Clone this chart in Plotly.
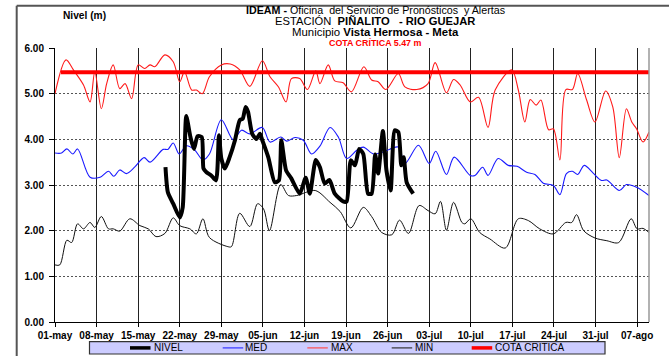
import plotly.graph_objects as go

# ---- data (x = days since 01-may) ----
tick_days = [0, 7, 14, 21, 28, 35, 42, 49, 56, 63, 70, 77, 84, 91, 98]
tick_labels = ["01-may", "08-may", "15-may", "22-may", "29-may", "05-jun", "12-jun",
               "19-jun", "26-jun", "03-jul", "10-jul", "17-jul", "24-jul", "31-jul", "07-ago"]

max_days = [0, 1.85, 3.1, 4.8, 5.9, 6.7, 7.8, 8.7, 9.8, 10.9, 11.8, 12.9, 14.0, 15.1, 16.0,
            16.8, 18.5, 19.9, 21.0, 21.8, 23.0, 23.8, 24.8, 26.0, 28.0, 29.5, 31.1, 32.8,
            34.9, 36.2, 37.6, 38.9, 39.8, 41.2, 42.5, 43.9, 44.6, 46.0, 47.1, 48.5, 49.9,
            52.0, 53.3, 54.4, 55.7, 57.8, 58.9, 60.9, 62.8, 64.0, 65.9, 67.1, 68.2, 69.9,
            71.3, 72.9, 74.1, 76.9, 78.0, 79.1, 80.0, 81.0, 81.8, 83.1, 83.9, 85.0, 86.0,
            87.1, 88.0, 89.5, 90.9, 92.7, 93.9, 95.0, 96.2, 97.1, 97.9, 99.0, 100.0]
max_vals = [5.00, 5.74, 5.52, 5.19, 4.82, 5.48, 4.67, 5.22, 5.63, 5.11, 5.22, 4.89, 5.63, 5.55, 5.63,
            5.59, 5.85, 5.70, 5.26, 5.48, 5.08, 5.08, 5.00, 5.37, 5.63, 5.65, 5.52, 5.16,
            5.72, 5.37, 5.15, 4.82, 5.33, 5.33, 5.09, 5.50, 5.22, 5.63, 5.28, 5.24, 5.04,
            5.59, 5.30, 5.26, 5.09, 5.44, 5.15, 5.09, 5.22, 5.68, 5.02, 5.31, 5.19, 4.82,
            4.92, 4.26, 5.08, 5.52, 5.08, 4.38, 4.87, 4.75, 4.86, 4.21, 4.23, 3.55, 5.09,
            5.09, 5.44, 4.86, 4.38, 5.06, 4.71, 3.60, 4.67, 4.38, 4.23, 3.94, 4.16]

med_days = [0, 1.1, 2.0, 3.0, 3.8, 5.9, 7.6, 9.0, 9.9, 10.9, 12.0, 13.4, 15.0, 16.0, 18.2,
            19.0, 19.9, 20.9, 22.1, 23.5, 24.9, 26.0, 28.0, 30.0, 31.4, 32.8, 34.9, 36.2,
            38.0, 39.0, 40.4, 41.8, 43.2, 44.6, 46.3, 47.7, 49.1, 50.8, 51.9, 53.6, 55.2,
            57.8, 58.9, 61.2, 63.0, 64.1, 65.9, 67.2, 69.9, 70.7, 72.0, 72.9, 74.6, 76.3,
            77.8, 79.4, 80.8, 82.2, 83.9, 85.0, 86.1, 87.1, 88.0, 89.1, 90.6, 92.0, 92.9,
            95.0, 96.2, 97.9, 100.0]
med_vals = [3.70, 3.70, 3.79, 3.68, 3.79, 3.17, 3.17, 3.30, 3.19, 3.33, 3.25, 3.39, 3.60, 3.50, 3.78,
            3.78, 3.92, 3.68, 3.86, 3.77, 3.55, 3.68, 4.43, 3.99, 4.20, 4.12, 4.26, 3.94,
            4.05, 3.96, 4.04, 3.98, 3.68, 3.85, 4.26, 4.05, 3.58, 3.76, 3.83, 3.68, 3.72,
            3.83, 3.47, 3.87, 3.47, 3.74, 3.23, 3.61, 3.21, 3.21, 3.39, 3.21, 3.58, 3.43,
            3.41, 3.28, 3.23, 3.04, 2.99, 2.79, 3.25, 3.30, 3.23, 3.43, 3.26, 3.10, 3.11,
            2.88, 3.01, 2.95, 2.77]

min_days = [0, 0.8, 2.0, 2.8, 3.8, 4.8, 5.9, 6.7, 7.8, 9.0, 9.8, 10.9, 12.6, 14.3, 15.7,
            17.0, 18.5, 19.9, 21.0, 22.7, 23.8, 24.9, 26.0, 29.1, 29.7, 31.1, 32.8, 34.1,
            35.1, 36.1, 38.0, 39.3, 40.7, 43.8, 46.3, 48.0, 49.8, 51.9, 53.3, 55.0, 56.7,
            58.0, 59.5, 61.3, 62.8, 64.0, 64.9, 65.9, 67.1, 68.5, 69.0, 70.0, 71.5, 73.2,
            75.8, 78.0, 79.7, 81.6, 83.9, 86.0, 87.0, 87.8, 89.0, 90.9, 92.9, 94.9, 97.0,
            98.0, 99.0, 100.0]
min_vals = [1.25, 1.25, 1.79, 1.74, 2.15, 2.04, 2.18, 2.07, 2.31, 2.04, 2.04, 1.99, 2.26, 2.11, 2.04,
            1.87, 1.94, 2.28, 2.11, 2.04, 1.93, 2.26, 1.85, 1.65, 1.65, 2.38, 2.09, 2.59,
            2.48, 2.00, 3.01, 2.77, 2.77, 2.88, 2.62, 2.42, 2.06, 2.51, 2.31, 1.96, 1.91,
            2.23, 1.94, 2.55, 2.44, 2.37, 2.64, 2.01, 2.62, 2.18, 2.15, 2.26, 1.96, 1.82,
            1.62, 2.26, 2.22, 2.04, 1.93, 2.18, 2.18, 2.35, 2.00, 1.84, 1.78, 1.74, 2.26,
            2.04, 2.05, 1.96]

nivel_days = [18.6, 19.0, 19.9, 21.0, 21.5, 22.1, 22.8, 23.4, 24.0, 24.7, 25.0, 25.5, 26.3,
              27.1, 27.6, 28.0, 28.6, 29.4, 30.3, 31.1, 31.6, 32.1, 32.5, 33.2, 33.9, 34.5,
              34.9, 35.9, 37.0, 37.7, 38.1, 38.9, 39.8, 41.2, 42.2, 42.9, 43.9, 44.6, 45.4,
              46.2, 47.1, 48.5, 49.1, 49.8, 50.5, 51.2, 51.9, 52.7, 53.3, 53.9, 54.4, 55.2,
              55.8, 56.5, 57.2, 57.8, 58.3, 58.7, 59.2, 60.3]
nivel_vals = [3.39, 2.84, 2.59, 2.29, 2.51, 4.51, 4.05, 3.79, 4.07, 4.05, 3.36, 3.28, 3.21,
              3.10, 4.09, 3.58, 3.36, 3.61, 3.98, 4.42, 4.45, 4.71, 4.60, 4.12, 4.01, 4.12,
              3.98, 3.61, 3.06, 3.10, 3.98, 3.32, 3.14, 2.81, 3.16, 2.81, 3.55, 3.39, 3.03,
              3.11, 2.81, 2.64, 2.64, 3.54, 3.43, 3.79, 3.68, 2.81, 2.81, 3.67, 3.25, 4.18,
              3.32, 2.88, 4.20, 4.16, 3.43, 3.61, 3.06, 2.81]

cota_days = [1, 100]
cota_level = 5.47

# ---- layout geometry ----
W, H = 669, 356
ML, MR, MT, MB = 55, 20, 48, 34
PW, PH = W - ML - MR, H - MT - MB


def px(xp):
    return (xp - ML) / PW


def py(yp):
    return (MT + PH - yp) / PH


FONT = "Liberation Sans, Arial, sans-serif"

fig = go.Figure()
fig.add_trace(go.Scatter(x=max_days, y=max_vals, mode="lines", name="MAX",
                         line=dict(color="#ff1a1a", width=1.1, shape="spline", smoothing=0.9)))
fig.add_trace(go.Scatter(x=med_days, y=med_vals, mode="lines", name="MED",
                         line=dict(color="#1a1aff", width=1.1, shape="spline", smoothing=0.9)))
fig.add_trace(go.Scatter(x=min_days, y=min_vals, mode="lines", name="MIN",
                         line=dict(color="#111111", width=1.0, shape="spline", smoothing=0.9)))
fig.add_trace(go.Scatter(x=cota_days, y=[cota_level] * len(cota_days), mode="lines",
                         name="COTA CRITICA", line=dict(color="#ff0000", width=4)))
fig.add_trace(go.Scatter(x=nivel_days, y=nivel_vals, mode="lines", name="NIVEL",
                         line=dict(color="#000000", width=4, shape="spline", smoothing=0.6)))

fig.update_layout(
    width=W, height=H, showlegend=False,
    margin=dict(l=ML, r=MR, t=MT, b=MB, autoexpand=False),
    paper_bgcolor="white", plot_bgcolor="white",
    font=dict(family=FONT, color="black"),
    xaxis=dict(range=[0, 100], tickvals=tick_days, ticktext=tick_labels,
               showgrid=True, gridcolor="#222222", gridwidth=1,
               showline=True, linecolor="black", linewidth=1,
               ticks="outside", ticklen=4, tickcolor="black",
               tickfont=dict(family=FONT, size=10, weight="bold"), zeroline=False),
    yaxis=dict(range=[0, 6], tickvals=[0, 1, 2, 3, 4, 5, 6], tickformat=".2f",
               showgrid=True, gridcolor="#555555", gridwidth=1, griddash="2px,2px",
               showline=True, linecolor="black", linewidth=1,
               ticks="outside", ticklen=5, tickcolor="black", ticklabelstandoff=3,
               tickfont=dict(family=FONT, size=10, weight="bold"), zeroline=False),
)

shapes = []
# right border of plot area
shapes.append(dict(type="line", xref="paper", yref="paper", x0=1, x1=1, y0=0, y1=1,
                   line=dict(color="#999999", width=1.5)))
# outer page frame
shapes.append(dict(type="line", xref="paper", yref="paper", x0=px(16.7), x1=px(672),
                   y0=py(5.7), y1=py(5.7), line=dict(color="#555555", width=2)))
shapes.append(dict(type="line", xref="paper", yref="paper", x0=px(16.7), x1=px(16.7),
                   y0=py(5.7), y1=py(360), line=dict(color="#555555", width=2)))

# legend box
shapes.append(dict(type="rect", xref="paper", yref="paper", x0=px(89.5), x1=px(605),
                   y0=py(354), y1=py(341.7), fillcolor="#ccccff",
                   line=dict(color="#333333", width=1.2)))
legend_items = [
    ("NIVEL", "#000000", 3.5, 130, 151.5),
    ("MED", "#3333ff", 1.2, 222.7, 243.3),
    ("MAX", "#ff4d4d", 1.2, 307.3, 328.5),
    ("MIN", "#333333", 1.2, 391.7, 412.7),
    ("COTA CRITICA", "#ff0000", 3.5, 471.7, 493.3),
]
annotations = []
ly = 347.9
for name, color, width, x0, tx in legend_items:
    shapes.append(dict(type="line", xref="paper", yref="paper", x0=px(x0), x1=px(x0 + 20.5),
                       y0=py(ly), y1=py(ly), line=dict(color=color, width=width)))
    annotations.append(dict(xref="paper", yref="paper", x=px(tx), y=py(ly), text=name,
                            showarrow=False, xanchor="left", yanchor="middle",
                            font=dict(family=FONT, size=10, color="black")))

cx = px(375)
annotations += [
    dict(xref="paper", yref="paper", x=cx, y=py(10.5), showarrow=False, xanchor="center",
         yanchor="middle", text="<b>IDEAM - </b>Oficina  del Servicio de Pronósticos  y Alertas",
         font=dict(family=FONT, size=10.7)),
    dict(xref="paper", yref="paper", x=cx, y=py(21), showarrow=False, xanchor="center",
         yanchor="middle", text="ESTACIÓN  <b>PIÑALITO   - RIO GUEJAR</b>",
         font=dict(family=FONT, size=11.2)),
    dict(xref="paper", yref="paper", x=cx, y=py(32.4), showarrow=False, xanchor="center",
         yanchor="middle", text="Municipio <b>Vista Hermosa - Meta</b>",
         font=dict(family=FONT, size=11.4)),
    dict(xref="paper", yref="paper", x=cx, y=py(42.6), showarrow=False, xanchor="center",
         yanchor="middle", text="<b>COTA CRÍTICA 5.47 m</b>",
         font=dict(family=FONT, size=8.9, color="#ff0000")),
    dict(xref="paper", yref="paper", x=px(84), y=py(15.5), showarrow=False, xanchor="center",
         yanchor="middle", text="<b>Nivel (m)</b>", font=dict(family=FONT, size=10.2)),
]

fig.update_layout(shapes=shapes, annotations=annotations)
fig.write_html("out.html", config={"displayModeBar": False},
               post_script="document.body.style.margin='0';document.body.style.overflow='hidden';")
